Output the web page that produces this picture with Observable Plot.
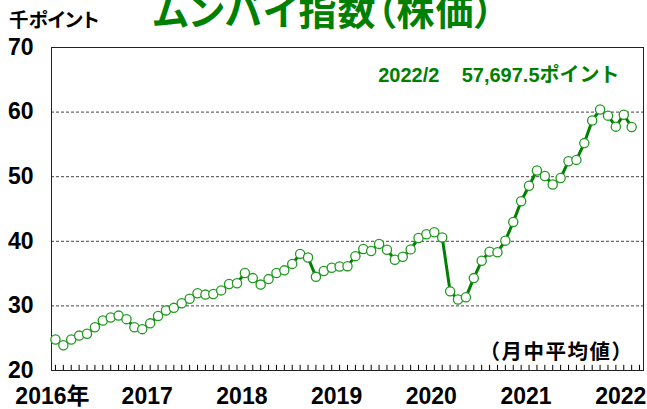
<!DOCTYPE html>
<html>
<head>
<meta charset="utf-8">
<script src="https://cdn.jsdelivr.net/npm/d3@7"></script>
<script src="https://cdn.jsdelivr.net/npm/@observablehq/plot@0.6"></script>
<style>
  html, body { margin: 0; padding: 0; background: #fff; }
  #wrap { position: relative; width: 647px; height: 409px; overflow: hidden; }
  .cjk { font-family: "Noto Sans CJK JP", sans-serif; font-weight: bold; font-feature-settings: "palt"; position: absolute; white-space: nowrap; }
  #title { left: 4px; width: 640px; text-align: center; top: -10px; font-size: 38px; line-height: 1; color: #008000; letter-spacing: 1px; }
  #unit { left: 9px; top: 9px; font-size: 19.5px; line-height: 1; color: #000; }
  .note text { letter-spacing: 1.5px; }
</style>
</head>
<body>
<div id="wrap">
  <div id="chart"></div>
  <div id="title" class="cjk">ムンバイ指数（株価）</div>
  <div id="unit" class="cjk">千ポイント</div>
</div>
<script>
// Monthly average, thousand points, Jan 2016 .. Feb 2022
const values2016 = [24.8, 23.9, 24.8, 25.4, 25.7, 26.7, 27.75, 28.2, 28.5, 27.95, 26.7, 26.4];
const values2017 = [27.3, 28.45, 29.3, 29.7, 30.4, 31.1, 31.95, 31.75, 31.85, 32.4, 33.4, 33.5];
const values2018 = [35.1, 34.3, 33.3, 34.15, 35.1, 35.5, 36.5, 38.05, 37.5, 34.5, 35.4, 35.9];
const values2019 = [36.1, 36.15, 37.7, 38.8, 38.5, 39.6, 38.7, 37.15, 37.6, 38.75, 40.5, 41.1];
const values2020 = [41.4, 40.6, 32.25, 31.0, 31.35, 34.3, 37.0, 38.4, 38.3, 40.1, 43.0, 46.2];
const values2021 = [48.6, 50.95, 50.1, 48.8, 49.8, 52.4, 52.6, 55.2, 58.7, 60.4, 59.45, 57.75];
const values2022 = [59.6, 57.7];
const yearLabels = ["2016年", "2017", "2018", "2019", "2020", "2021", "2022"];
const yTicks = [20, 30, 40, 50, 60, 70];
const gridValues = [30, 40, 50, 60];
const annotation = "2022/2\u00a0\u00a0\u00a0\u00a057,697.5ポイント";
const note = "（月中平均値）";

const values = [].concat(values2016, values2017, values2018, values2019, values2020, values2021, values2022);
const data = values.map((v, i) => ({i, v}));
const monthTicks = d3.range(0, 75);
const yearTicks = yearLabels.map((_, k) => k * 12);

const numFont = "'Liberation Sans Narrow', 'Liberation Sans', 'Noto Sans CJK JP', sans-serif";

const chart = Plot.plot({
  width: 647,
  height: 409,
  marginLeft: 51,
  marginRight: 4,
  marginTop: 47,
  marginBottom: 39,
  style: {background: "white", fontFamily: numFont, fontWeight: "bold", color: "#000"},
  x: {domain: [-0.5, 74.5]},
  y: {domain: [20, 70]},
  marks: [
    Plot.ruleY(gridValues, {stroke: "#444", strokeDasharray: "3,2", strokeWidth: 1}),
    Plot.frame({stroke: "#222", strokeWidth: 1}),
    Plot.ruleX(monthTicks, {x: d => d, y1: 20, y2: 20.8, stroke: "#000", strokeWidth: 1}),
    Plot.axisY(yTicks, {tickSize: 0, tickPadding: 18, fontSize: 23, fontWeight: "bold", fontFamily: numFont, label: null}),
    Plot.axisX(yearTicks, {tickSize: 0, tickPadding: 17, fontSize: 23, fontWeight: "bold", fontFamily: numFont, label: null,
      dx: -3, tickFormat: d => yearLabels[d / 12]}),
    Plot.line(data, {x: "i", y: "v", stroke: "#008000", strokeWidth: 3}),
    Plot.dot(data, {x: "i", y: "v", r: 4.6, fill: "white", stroke: "#1f9a1f", strokeWidth: 1.3}),
    Plot.text([annotation], {frameAnchor: "top-right", dx: -24, dy: 20, lineAnchor: "top", fill: "#008000",
      fontSize: 20, fontWeight: "bold", fontFamily: numFont, text: d => d}),
    Plot.text([note], {frameAnchor: "bottom-right", dx: -10, dy: -12, lineAnchor: "bottom", fill: "#000",
      fontSize: 20.5, fontWeight: "bold", fontFamily: "'Noto Sans CJK JP', sans-serif", className: "note", text: d => d})
  ]
});
document.getElementById("chart").appendChild(chart);
</script>
</body>
</html>
